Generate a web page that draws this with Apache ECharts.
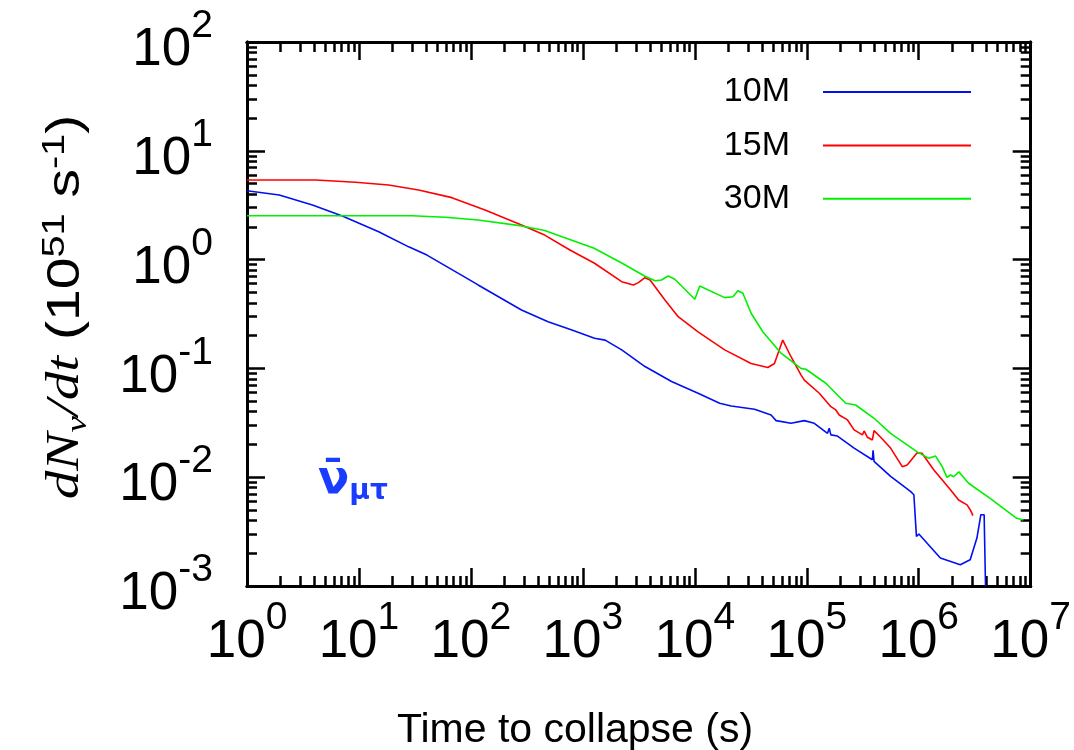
<!DOCTYPE html>
<html>
<head>
<meta charset="utf-8">
<script src="https://cdn.jsdelivr.net/npm/echarts@6/dist/echarts.min.js"></script>
<style>html,body{margin:0;padding:0;background:#fff;}#c{width:1074px;height:750px;}</style>
</head>
<body>
<div id="c"></div>
<script>
// ---- data ----
const seriesNames = ['10M', '15M', '30M'];

const t10 = [1, 1.94, 3.84, 7.1, 15.0, 27.8, 40.5, 77.3, 116, 283,
  489, 798, 1271, 1582, 2223, 3589, 6194, 10690, 16670, 21140,
  34170, 48000, 53200, 72300, 95100, 116700, 153200, 158700, 164200, 188000,
  264800, 385400, 391000, 399000, 560800, 844000, 905000, 954000, 1003000, 1560000,
  2350000, 2880000, 3310000, 3590000, 3840000, 3950000];
const r10 = [4.3, 3.92, 3.18, 2.52, 1.80, 1.31, 1.10, 0.748, 0.585, 0.344,
  0.269, 0.225, 0.189, 0.182, 0.148, 0.104, 0.0757, 0.0592, 0.0479, 0.0451,
  0.0421, 0.0373, 0.0331, 0.0313, 0.0331, 0.0313, 0.0253, 0.0282, 0.0245, 0.0239,
  0.01853, 0.01446, 0.01765, 0.0140, 0.01019, 0.00741, 0.00690, 0.00286, 0.00300, 0.00181,
  0.00157, 0.00174, 0.00276, 0.00452, 0.00452, 0.001];

const t15 = [1, 4.1, 9.33, 18.4, 34.1, 67.6, 133.6, 283, 456, 773,
  1271, 2223, 2826, 3130, 3589, 3980, 5410, 7100, 10690, 18480,
  31850, 44860, 51450, 61000, 72300, 88700, 95100, 129400, 164200, 181700,
  195000, 231000, 264800, 314000, 325000, 347500, 385400, 399000, 457000, 560800,
  713000, 789000, 968000, 1070000, 1360000, 1920000, 2270000, 2700000, 2890000, 3050000];
const r15 = [5.39, 5.39, 5.14, 4.85, 4.37, 3.71, 2.86, 2.08, 1.68, 1.22,
  0.925, 0.627, 0.585, 0.614, 0.682, 0.649, 0.425, 0.299, 0.217, 0.148,
  0.111, 0.102, 0.111, 0.182, 0.128, 0.0871, 0.0781, 0.0591, 0.0445, 0.0415,
  0.0373, 0.0336, 0.0272, 0.0245, 0.0266, 0.0233, 0.0220, 0.0268, 0.0233, 0.01853,
  0.0125, 0.01295, 0.0168, 0.0166, 0.0117, 0.00766, 0.00617, 0.00557, 0.00500, 0.00443];

const t30 = [1, 29.8, 58.9, 116, 283, 456, 1260, 2223, 3589, 4400, 5040,
  5780, 6630, 10000, 11070, 18480, 19100, 21900, 24260, 26870, 31850,
  40450, 58900, 88700, 98200, 148000, 223000, 273700, 399000, 560800, 968000,
  1230000, 1410000, 1620000, 1790000, 1920000, 2050000, 2280000, 2790000, 4340000, 7500000,
  8600000];
const r30 = [2.53, 2.53, 2.45, 2.31, 2.04, 1.85, 1.27, 0.93, 0.703, 0.640, 0.649,
  0.706, 0.659, 0.432, 0.572, 0.447, 0.463, 0.456, 0.518, 0.490, 0.321,
  0.217, 0.138, 0.100, 0.0982, 0.0730, 0.0478, 0.0461, 0.0348, 0.0253, 0.0171,
  0.0149, 0.0157, 0.0125, 0.00998, 0.01047, 0.0101, 0.0112, 0.0088, 0.0064, 0.00419,
  0.00404];

const xMajor = [1, 10, 100, 1000, 10000, 100000, 1000000, 10000000];
const yMajor = [0.001, 0.01, 0.1, 1, 10, 100];

// ---- build ----
function minors(major) {
  const out = [];
  for (let i = 0; i < major.length - 1; i++) {
    for (let m = 2; m <= 9; m++) out.push(+(major[i] * m).toPrecision(6));
  }
  return out;
}
const xMinor = minors(xMajor);
const yMinor = minors(yMajor);

const SANS = 'Liberation Sans, Arial, Helvetica, sans-serif';
const labelRich = {
  b: { fontSize: 53, fontFamily: SANS, color: '#000', lineHeight: 70, verticalAlign: 'bottom' },
  s: { fontSize: 39, fontFamily: SANS, color: '#000', lineHeight: 39, verticalAlign: 'top' }
};
function powLabel(v) {
  const e = Math.round(Math.log10(v));
  return '{b|10}{s|' + e + '}';
}
const axisLineStyle = { show: true, lineStyle: { color: '#000', width: 3 } };

function xAx(pos, ticks, len, labels) {
  return {
    type: 'log', logBase: 10, min: 1, max: 1e7, position: pos,
    axisLine: axisLineStyle,
    axisTick: { show: true, inside: true, length: len, customValues: ticks, lineStyle: { color: '#000', width: 2.5 } },
    axisLabel: labels ? { show: true, customValues: xMajor, formatter: powLabel, rich: labelRich, margin: 13 } : { show: false },
    splitLine: { show: false }, minorTick: { show: false }
  };
}
function yAx(pos, ticks, len, labels) {
  return {
    type: 'log', logBase: 10, min: 0.001, max: 100, position: pos,
    axisLine: axisLineStyle,
    axisTick: { show: true, inside: true, length: len, customValues: ticks, lineStyle: { color: '#000', width: 2.5 } },
    axisLabel: labels ? { show: true, customValues: yMajor, formatter: powLabel, rich: labelRich, margin: 34 } : { show: false },
    splitLine: { show: false }, minorTick: { show: false }
  };
}

function pairs(t, r) { return t.map((x, i) => [x, r[i]]); }
function lineSeries(name, color, t, r) {
  return {
    name: name, type: 'line', xAxisIndex: 0, yAxisIndex: 0,
    data: pairs(t, r), showSymbol: false, symbol: 'none', clip: true,
    lineStyle: { color: color, width: 1.6 }, itemStyle: { color: color },
    emphasis: { disabled: true }, animation: false
  };
}

const chart = echarts.init(document.getElementById('c'), null, { renderer: 'canvas' });
chart.setOption({
  animation: false,
  backgroundColor: '#fff',
  grid: { left: 247, top: 42, right: 40, bottom: 164, containLabel: false },
  xAxis: [
    xAx('bottom', xMajor, 18, true),
    xAx('top', xMajor, 18, false),
    xAx('bottom', xMinor, 10, false),
    xAx('top', xMinor, 10, false)
  ],
  yAxis: [
    yAx('left', yMajor, 18, true),
    yAx('right', yMajor, 18, false),
    yAx('left', yMinor, 10, false),
    yAx('right', yMinor, 10, false)
  ],
  legend: {
    orient: 'vertical', align: 'right', right: 98, top: 70,
    icon: 'rect', itemWidth: 148, itemHeight: 2, itemGap: 19.4,
    textStyle: { fontSize: 34, fontFamily: SANS, color: '#000', lineHeight: 34, padding: [0, 28, 0, 0] },
    data: seriesNames
  },
  series: [
    lineSeries(seriesNames[0], '#0010f0', t10, r10),
    lineSeries(seriesNames[1], '#ff0000', t15, r15),
    lineSeries(seriesNames[2], '#00f000', t30, r30)
  ],
  graphic: [
    {
      type: 'text', x: 575, y: 731,
      style: { text: 'Time to collapse (s)', font: '41px ' + SANS, fill: '#000', textAlign: 'center', textVerticalAlign: 'middle' }
    },
    {
      type: 'text', x: 66, y: 307, rotation: Math.PI / 2, scaleX: 1.24, scaleY: 1,
      style: {
        text: '{i|dN}{isub|ν}{i|/dt}{n| (10}{nsup|51}{n| s}{nsup|-1}{n|)}',
        textAlign: 'center', textVerticalAlign: 'middle',
        rich: {
          i: { fontSize: 46, fontFamily: 'Liberation Serif, Times New Roman, serif', fontStyle: 'italic', fill: '#000', lineHeight: 54 },
          isub: { fontSize: 30, fontFamily: 'Liberation Serif, Times New Roman, serif', fontStyle: 'italic', fill: '#000', lineHeight: 10, verticalAlign: 'bottom' },
          n: { fontSize: 46, fontFamily: SANS, fill: '#000', lineHeight: 54 },
          nsup: { fontSize: 32, fontFamily: SANS, fill: '#000', lineHeight: 10, verticalAlign: 'top' }
        }
      }
    },
    {
      type: 'text', x: 318, y: 481,
      style: {
        text: '{nu|ν\u0304}{sub|μτ}',
        textAlign: 'left', textVerticalAlign: 'middle',
        rich: {
          nu: { fontSize: 46, fontFamily: 'DejaVu Sans', fontWeight: 'bold', fill: '#1a3cff', lineHeight: 50 },
          sub: { fontSize: 28, fontFamily: 'DejaVu Sans', fontWeight: 'bold', fill: '#1a3cff', lineHeight: 10, verticalAlign: 'bottom' }
        }
      }
    }
  ]
});
</script>
</body>
</html>
